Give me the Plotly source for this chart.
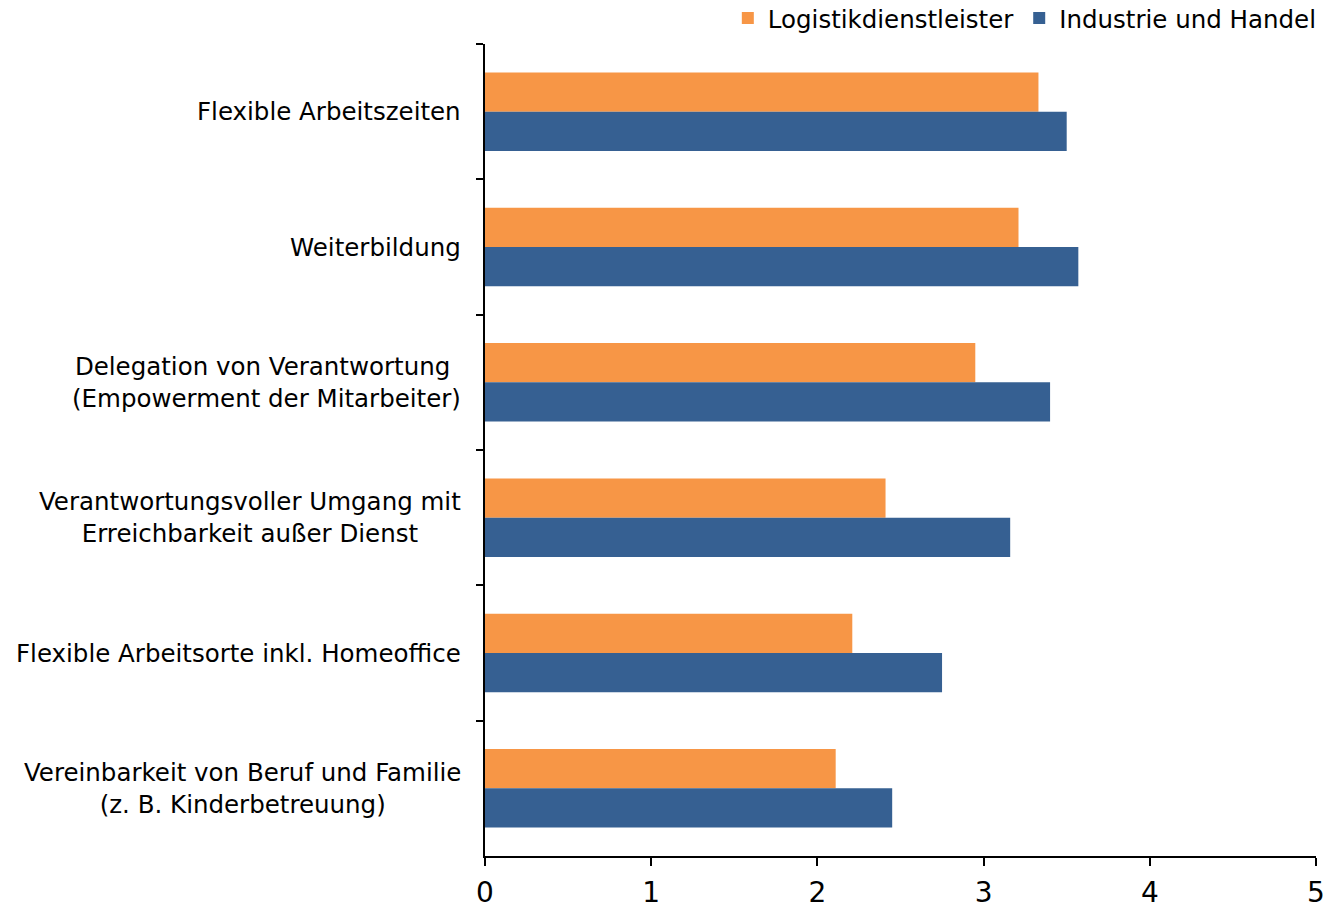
import plotly.graph_objects as go

categories = [
    "Flexible Arbeitszeiten",
    "Weiterbildung",
    "Delegation von Verantwortung <br>(Empowerment der Mitarbeiter)",
    "Verantwortungsvoller Umgang mit<br>Erreichbarkeit außer Dienst",
    "Flexible Arbeitsorte inkl. Homeoffice",
    "Vereinbarkeit von Beruf und Familie<br>(z. B. Kinderbetreuung)",
]
logistik = [3.33, 3.21, 2.95, 2.41, 2.21, 2.11]
industrie = [3.50, 3.57, 3.40, 3.16, 2.75, 2.45]
x_ticks = [0, 1, 2, 3, 4, 5]

FONT = "DejaVu Sans"

fig = go.Figure()
fig.add_trace(go.Bar(y=categories, x=logistik, orientation="h",
                     name="Logistikdienstleister", marker_color="#F79646",
                     marker_line_width=0))
fig.add_trace(go.Bar(y=categories, x=industrie, orientation="h",
                     name="Industrie und Handel", marker_color="#366092",
                     marker_line_width=0))

for c in categories:
    fig.add_annotation(text=c, x=-0.027, xref="paper", y=c, yref="y",
                       xanchor="right", yanchor="middle", align="center",
                       showarrow=False, font=dict(family=FONT, size=24.5, color="#000"))

fig.update_layout(
    template="none",
    width=1332, height=911,
    margin=dict(l=485, r=16, t=44, b=55, autoexpand=False),
    paper_bgcolor="white", plot_bgcolor="white",
    barmode="group", bargap=0.42, bargroupgap=0,
    font=dict(family=FONT, color="#000"),
    showlegend=True,
    legend=dict(orientation="h", x=1.007, xanchor="right",
                y=1.032, yanchor="middle",
                font=dict(family=FONT, size=24.5), traceorder="normal",
                itemwidth=30, bgcolor="rgba(0,0,0,0)"),
    xaxis=dict(range=[0, 5], tickvals=x_ticks, ticktext=[str(v) for v in x_ticks],
               ticks="outside", ticklen=8, tickwidth=2, tickcolor="#000",
               showline=True, linecolor="#000", linewidth=2,
               showgrid=False, zeroline=False, automargin=False,
               ticklabelstandoff=2,
               tickfont=dict(family=FONT, size=28, color="#000")),
    yaxis=dict(autorange="reversed", type="category", tickson="boundaries",
               ticks="outside", ticklen=7, tickwidth=2, tickcolor="#000",
               showline=True, linecolor="#000", linewidth=2, automargin=False,
               showgrid=False, zeroline=False, showticklabels=False),
)

fig.write_html("out.html", config={"displayModeBar": False})
with open("out.html", encoding="utf-8") as f:
    html = f.read()
html = html.replace("<head>", "<head><style>body{margin:0;padding:0;}</style>", 1)
with open("out.html", "w", encoding="utf-8") as f:
    f.write(html)
